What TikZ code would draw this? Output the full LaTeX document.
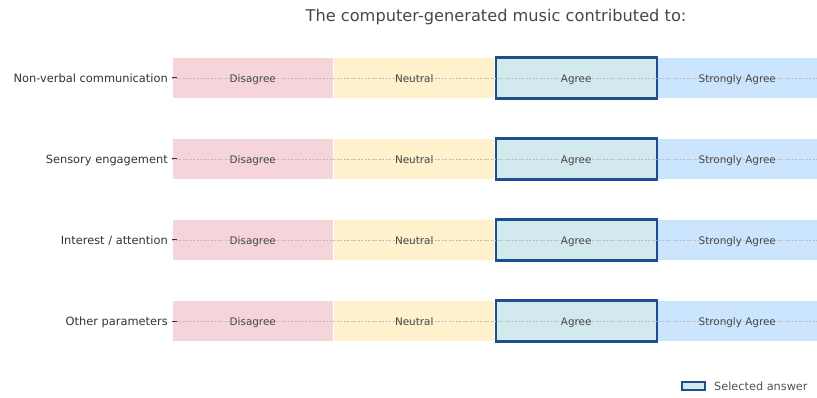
\documentclass[tikz,border=0pt]{standalone}
\usepackage{fontspec}
\setmainfont{DejaVu Sans}
\definecolor{cDis}{HTML}{F6D5DA}
\definecolor{cNeu}{HTML}{FFF1CC}
\definecolor{cAgr}{HTML}{D2EAEE}
\definecolor{cSA}{HTML}{CCE5FF}
\definecolor{selblue}{HTML}{1D4F8C}
\definecolor{txt}{HTML}{333333}
\definecolor{rowline}{HTML}{E4E4E4}
\definecolor{dashgrey}{HTML}{BDBDBD}
\begin{document}
\begin{tikzpicture}[x=1pt,y=-1pt,
  cell/.style={draw=white, line width=1.4pt, minimum width=161.5pt, minimum height=42pt, inner sep=0pt},
  sel/.style={draw=selblue, line width=2.2pt, fill=cAgr, minimum width=161pt, minimum height=41pt, inner sep=0pt},
  celltext/.style={font=\fontsize{10.4}{12}\selectfont, text=txt!90!white, inner sep=0pt, text height=7.6pt, text depth=2.2pt, yshift=-1.5pt},
  rowlabel/.style={font=\fontsize{11.4}{13}\selectfont, text=txt, anchor=east, inner sep=0pt, text height=8.3pt, text depth=2.4pt, yshift=-1.5pt},
  rowframe/.style={draw=rowline, line width=0.6pt},
  guide/.style={draw=dashgrey, line width=0.6pt, dash pattern=on 2pt off 1.5pt},
  tick/.style={draw=txt, line width=1pt}
]
\useasboundingbox (0,0) rectangle (817,398);
\begin{scope}
\clip (0,0) rectangle (817,398);
\node[font=\fontsize{16.2}{19}\selectfont, text=txt!90!white] (title) at (496,17) {The computer-generated music contributed to:};
\foreach \i/\lab [count=\k] in {78/{Non-verbal communication},159/{Sensory engagement},240/{Interest / attention},321/{Other parameters}}{
  \draw[rowframe] (172,\i-21) rectangle (817,\i+21);
  \node[cell, fill=cDis] (dis\k) at (252.75,\i) {};
  \node[cell, fill=cNeu] (neu\k) at (414.25,\i) {};
  \node[cell, fill=cSA] (sa\k) at (737.25,\i) {};
  \node[sel] (agr\k) at (576.25,\i) {};
  \coordinate (gl\k) at (172,\i);
  \coordinate (gr\k) at (817,\i);
  \coordinate (tk\k) at (177,\i);
  \draw[guide] (gl\k) -- (gr\k);
  \draw[tick] (gl\k) -- (tk\k);
  \node[celltext] (tdis\k) at (dis\k) {Disagree};
  \node[celltext] (tneu\k) at (neu\k) {Neutral};
  \node[celltext] (tagr\k) at (agr\k) {Agree};
  \node[celltext] (tsa\k) at (sa\k) {Strongly Agree};
  \node[rowlabel] (lab\k) at (168,\i) {\lab};
}
\node[draw=selblue, line width=2pt, fill=cAgr, minimum width=23pt, minimum height=8.5pt, inner sep=0pt] (legbox) at (693,386) {};
\node[font=\fontsize{11.3}{13}\selectfont, text=txt!85!white, anchor=west, inner sep=0pt, text height=8.2pt, text depth=0pt] (legtext) at (714,386) {Selected answer};
\end{scope}
\end{tikzpicture}
\end{document}
